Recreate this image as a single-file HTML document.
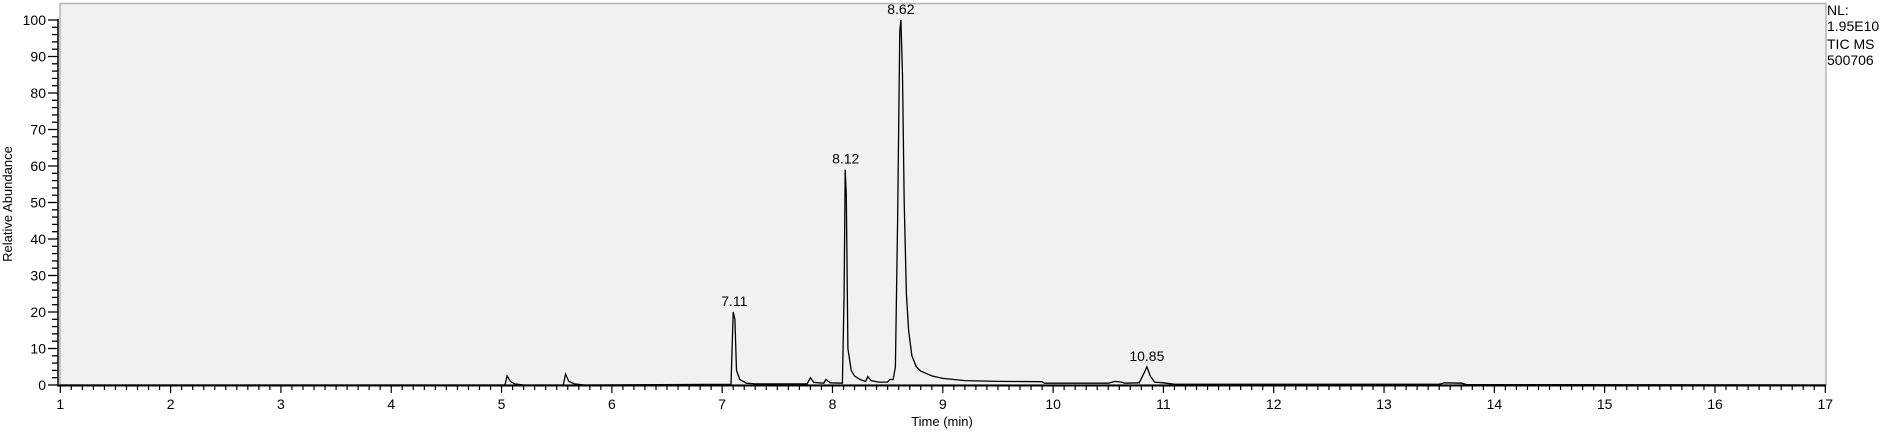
<!DOCTYPE html>
<html><head><meta charset="utf-8"><style>
html,body{margin:0;padding:0;background:#fff;}
svg{display:block;font-family:"Liberation Sans",Arial,sans-serif;}
</style></head><body>
<svg id="chart" width="1884" height="435">
<rect x="60" y="3.5" width="1766" height="381.5" fill="#f1f1f1" stroke="#b4b4b4" stroke-width="1.5"/>
<g id="axes"></g>
<path id="trace" fill="none" stroke="#000" stroke-width="1.3"/>
<g id="labels"></g>
<text x="12" y="204" font-size="13" text-anchor="middle" transform="rotate(-90 12 204)">Relative Abundance</text>
<text x="942" y="426" font-size="13" text-anchor="middle">Time (min)</text>
<g font-size="14">
<text x="1827" y="15">NL:</text>
<text x="1827" y="31">1.95E10</text>
<text x="1827" y="49">TIC  MS</text>
<text x="1827" y="65">500706</text>
</g>
</svg>
<script>
const times=[1,5.03,5.05,5.08,5.12,5.2,5.56,5.58,5.61,5.66,5.75,7.08,7.10,7.115,7.13,7.16,7.22,7.3,7.77,7.80,7.83,7.92,7.94,7.98,8.09,8.105,8.115,8.125,8.14,8.17,8.2,8.25,8.3,8.32,8.35,8.42,8.5,8.52,8.55,8.57,8.59,8.61,8.62,8.635,8.65,8.67,8.69,8.72,8.76,8.8,8.9,9.0,9.2,9.5,9.9,9.92,10.5,10.56,10.62,10.65,10.78,10.82,10.85,10.88,10.92,11.0,11.1,13.5,13.55,13.7,13.75,17];
const abundance=[0,0,2.5,1,0.3,0,0,3,1,0.3,0,0.2,20,18,4,1.5,0.5,0.3,0.3,2,0.7,0.5,1.5,0.6,0.5,25,59,52,10,4,2.5,1.5,1.0,2.3,1.2,0.8,0.8,1.5,1.5,5,45,97,100,85,50,25,15,8,5,3.8,2.5,1.8,1.2,1.0,0.9,0.5,0.5,1,0.8,0.5,0.6,3,5,2.5,0.8,0.6,0.2,0.2,0.6,0.5,0.1,0];
const peakTimes=[7.11,8.12,8.62,10.85];
const peakValues=[20,59,100,5];
const peakLabels=["7.11","8.12","8.62","10.85"];
const xTicks=[1,2,3,4,5,6,7,8,9,10,11,12,13,14,15,16,17];
const yTicks=[0,10,20,30,40,50,60,70,80,90,100];
const X=t=>60.3+(t-1)*110.3125;
const Y=v=>385-v*3.65;
const NS="http://www.w3.org/2000/svg";
const ax=document.getElementById('axes');
function ln(x1,y1,x2,y2,w,name){const l=document.createElementNS(NS,'line');l.setAttribute('x1',x1);l.setAttribute('y1',y1);l.setAttribute('x2',x2);l.setAttribute('y2',y2);l.setAttribute('stroke','#000');l.setAttribute('stroke-width',w);


ax.appendChild(l);}
function tx(x,y,s,anchor,name,parent){const t=document.createElementNS(NS,'text');t.setAttribute('x',x);t.setAttribute('y',y);t.setAttribute('font-size','14');t.setAttribute('text-anchor',anchor);t.textContent=s;


parent.appendChild(t);}
ln(58,Y(100)-1,58,386,1.5,'y-axis-line');
ln(57,385.5,1826,385.5,2,'x-axis-line');
for(let v=0;v<=100;v+=2){const major=v%10===0;ln(major?48:52,Y(v),58,Y(v),1.3,major?'y-major-tick':'y-minor-tick');}
yTicks.forEach(v=>tx(46,Y(v)+5,String(v),'end','y-tick-label',ax));
for(let i=0;i<=160;i++){const t=1+i*0.1;const major=i%10===0;ln(X(t),386,X(t),major?393:390,1.2,major?'x-major-tick':'x-minor-tick');}
xTicks.forEach(t=>tx(X(t),409,String(t),'middle','x-tick-label',ax));
let d='';times.forEach((t,i)=>{d+=(i?'L':'M')+X(t).toFixed(1)+','+Y(abundance[i]).toFixed(1);});
document.getElementById('trace').setAttribute('d',d);
const lb=document.getElementById('labels');
peakTimes.forEach((t,i)=>tx(X(t),Y(peakValues[i])-6,peakLabels[i],'middle','peak-label',lb));
</script>
</body></html>
